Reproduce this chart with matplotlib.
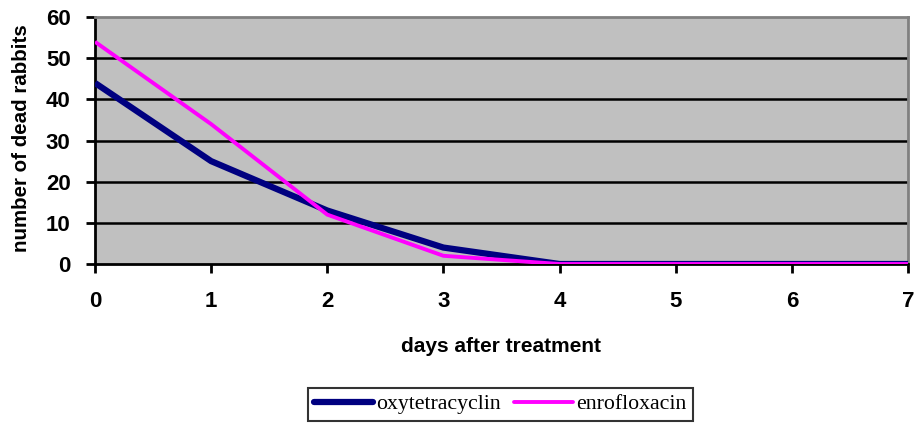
import matplotlib
matplotlib.use("Agg")
import matplotlib.pyplot as plt

days = [0, 1, 2, 3, 4, 5, 6, 7]
oxytetracyclin = [44, 25, 13, 4, 0, 0, 0, 0]
enrofloxacin = [54, 34, 12, 2, 0, 0, 0, 0]
y_ticks = [0, 10, 20, 30, 40, 50, 60]

fig = plt.figure(figsize=(9.15, 4.25), dpi=100)
ax = fig.add_axes([0.1038, 0.3788, 0.8885, 0.581])
ax.set_facecolor("#C0C0C0")
ax.set_xlim(0, 7)
ax.set_ylim(0, 60)
ax.set_yticks(y_ticks)
ax.set_xticks(days)
for y in y_ticks[1:-1]:
    ax.axhline(y, color="black", lw=1.8, zorder=1)

l1, = ax.plot(days, oxytetracyclin, color="#000080", lw=4.5, zorder=3, solid_capstyle="butt")
l2, = ax.plot(days, enrofloxacin, color="#FF00FF", lw=2.8, zorder=4, solid_capstyle="butt")

for s in ["top", "right"]:
    ax.spines[s].set_color("#808080")
    ax.spines[s].set_linewidth(2)
for s in ["left", "bottom"]:
    ax.spines[s].set_color("black")
    ax.spines[s].set_linewidth(2)

ax.tick_params(axis="both", direction="out", length=6.5, width=2, colors="black")
ax.tick_params(axis="x", pad=13)
ax.tick_params(axis="y", pad=11)
for lab in ax.get_xticklabels() + ax.get_yticklabels():
    lab.set_fontfamily("Liberation Sans")
    lab.set_fontweight("bold")
    lab.set_fontsize(16)

ax.set_xlabel("days after treatment", fontfamily="Liberation Sans", fontweight="bold",
              fontsize=15, va="center")
ax.xaxis.set_label_coords(0.5, -0.336)
ax.set_ylabel("number of dead rabbits", fontfamily="Liberation Sans", fontweight="bold",
              fontsize=14.8, va="center")
ax.yaxis.set_label_coords(-0.0898, 0.51)

leg = fig.legend([l1, l2], ["oxytetracyclin", "enrofloxacin"], loc="center",
                 bbox_to_anchor=(0.547, 0.049), ncol=2, frameon=True, fancybox=False,
                 edgecolor="black", prop={"family": "Liberation Serif", "size": 15.7},
                 handlelength=2.7, handletextpad=0.15, columnspacing=0.6, borderpad=0.3,
                 borderaxespad=0)
leg.get_frame().set_linewidth(1.5)
for h in leg.legend_handles:
    h.set_solid_capstyle("round")

fig.savefig("out.png", dpi=100)
